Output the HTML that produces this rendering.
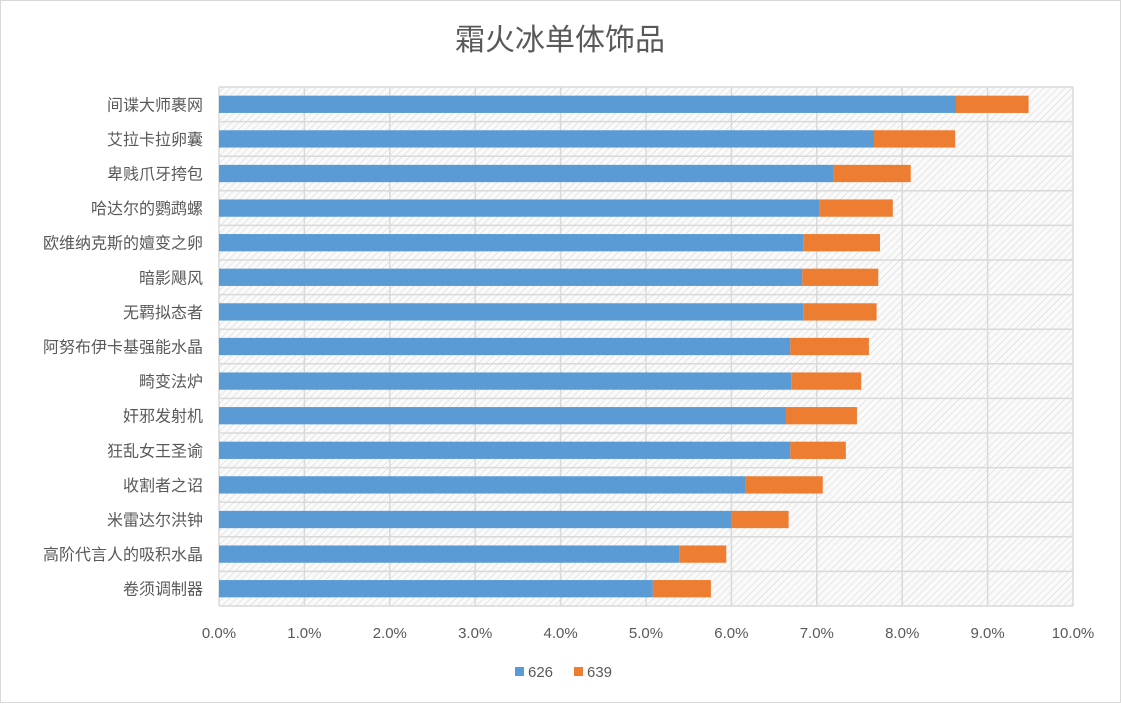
<!DOCTYPE html>
<html><head><meta charset="utf-8"><style>
body{margin:0;background:#fff;font-family:"Liberation Sans","Noto Sans CJK SC",sans-serif;}
svg text{font-family:"Liberation Sans","Noto Sans CJK SC",sans-serif;}
</style></head><body>
<svg id="chart" width="1121" height="703" xmlns="http://www.w3.org/2000/svg">
<defs><pattern id="hatch" width="5" height="5" patternUnits="userSpaceOnUse" patternTransform="rotate(45)"><rect width="5" height="5" fill="#fafafa"/><line x1="0" y1="0" x2="0" y2="5" stroke="#d9d9d9" stroke-width="1.2"/></pattern></defs>
<rect x="0.5" y="0.5" width="1120" height="702" fill="#fff" stroke="#d9d9d9"/>
<text x="560" y="50" text-anchor="middle" font-size="30" fill="#595959">霜火冰单体饰品</text>
<rect x="219" y="87" width="854" height="519" fill="url(#hatch)"/>
<g id="grid"></g><g id="bars"></g><g id="labels"></g>
<g>
<rect x="515" y="667" width="9" height="9" fill="#5b9bd5"/>
<text x="528" y="677" font-size="15" fill="#595959">626</text>
<rect x="574" y="667" width="9" height="9" fill="#ed7d31"/>
<text x="587" y="677" font-size="15" fill="#595959">639</text>
</g>
</svg>
<script>
const categories=["间谍大师裹网","艾拉卡拉卵囊","卑贱爪牙挎包","哈达尔的鹦鹉螺","欧维纳克斯的嬗变之卵","暗影飓风","无羁拟态者","阿努布伊卡基强能水晶","畸变法炉","奸邪发射机","狂乱女王圣谕","收割者之诏","米雷达尔洪钟","高阶代言人的吸积水晶","卷须调制器"];
const s626=[8.63,7.67,7.20,7.03,6.84,6.83,6.84,6.69,6.70,6.64,6.69,6.16,6.00,5.39,5.08];
const s639=[0.85,0.95,0.90,0.86,0.90,0.89,0.86,0.92,0.82,0.83,0.65,0.91,0.67,0.55,0.68];
const ticks=[0,1,2,3,4,5,6,7,8,9,10];
const NS="http://www.w3.org/2000/svg";
const X0=219,X1=1073,Y0=87,Y1=606,XMAX=10;
const x=v=>X0+(v/XMAX)*(X1-X0);
const band=(Y1-Y0)/categories.length;
const y=i=>Y0+band*i;
function mk(tag,attrs,parent){const e=document.createElementNS(NS,tag);for(const k in attrs)e.setAttribute(k,attrs[k]);parent.appendChild(e);return e;}
const grid=document.getElementById('grid'),bars=document.getElementById('bars'),labels=document.getElementById('labels');
ticks.forEach(t=>{
 const l=mk('line',{x1:x(t),x2:x(t),y1:Y0,y2:Y1,stroke:'#d9d9d9','stroke-width':1.5},grid);
 
 
 const tx=mk('text',{x:x(t),y:638,'text-anchor':'middle','font-size':15,fill:'#595959'},labels);
 tx.textContent=t.toFixed(1)+'%';
 
 
});
for(let i=0;i<=categories.length;i++){
 const l=mk('line',{x1:X0,x2:X1,y1:y(i),y2:y(i),stroke:'#d9d9d9','stroke-width':1.5},grid);
 
 
}
const bh=band*0.5;
categories.forEach((c,i)=>{
 const cy=y(i)+band/2;
 const b1=mk('rect',{x:X0,y:cy-bh/2,width:x(s626[i])-X0,height:bh,fill:'#5b9bd5'},bars);
 
 
 const b2=mk('rect',{x:x(s626[i]),y:cy-bh/2,width:x(s626[i]+s639[i])-x(s626[i]),height:bh,fill:'#ed7d31'},bars);
 
 
 const t=mk('text',{x:203,y:cy+6,'text-anchor':'end','font-size':16,fill:'#595959'},labels);
 t.textContent=c;
 
 
});
</script>
</body></html>
